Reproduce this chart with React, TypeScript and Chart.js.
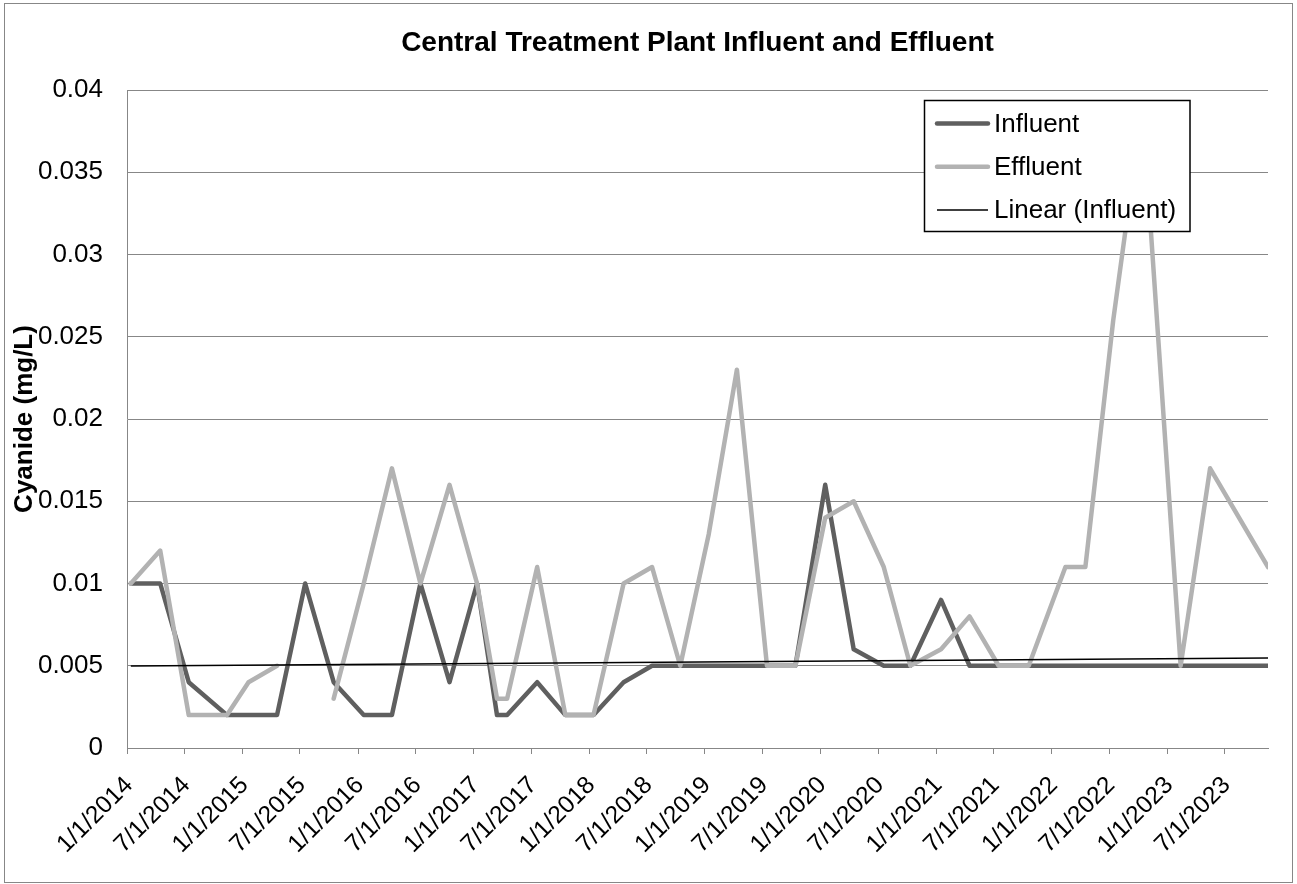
import React, { useEffect, useRef } from "react";
import { Chart, registerables } from "chart.js";

Chart.register(...registerables);

// ---- data ----
const sampleDates = [
  "2014-01-13", "2014-04-16", "2014-07-15", "2014-11-13", "2015-01-20",
  "2015-04-20", "2015-07-18", "2015-10-16", "2016-01-19", "2016-04-17",
  "2016-07-16", "2016-10-16", "2017-01-11", "2017-03-15", "2017-04-16",
  "2017-07-20", "2017-10-17", "2018-01-14", "2018-04-19", "2018-07-18",
  "2018-10-15", "2019-01-13", "2019-04-12", "2019-07-16", "2019-10-14",
  "2020-01-16", "2020-04-15", "2020-07-19", "2020-10-11", "2021-01-16",
  "2021-04-16", "2021-07-17", "2021-10-20", "2022-02-13", "2022-04-17",
  "2022-07-14", "2022-10-14", "2023-02-12", "2023-05-16", "2023-11-15",
];

const influent = [
  0.010, 0.010, 0.004, 0.002, 0.002,
  0.002, 0.010, 0.004, 0.002, 0.002,
  0.010, 0.004, 0.010, 0.002, 0.002,
  0.004, 0.002, 0.002, 0.004, 0.005,
  0.005, 0.005, 0.005, 0.005, 0.005,
  0.016, 0.006, 0.005, 0.005, 0.009,
  0.005, 0.005, 0.005, 0.005, 0.005,
  0.005, 0.005, 0.005, 0.005, 0.005,
];

const effluent: (number | null)[] = [
  0.010, 0.012, 0.002, 0.002, 0.004,
  0.005, null, 0.003, 0.010, 0.017,
  0.010, 0.016, 0.010, 0.003, 0.003,
  0.011, 0.002, 0.002, 0.010, 0.011,
  0.005, 0.013, 0.023, 0.005, 0.005,
  0.014, 0.015, 0.011, 0.005, 0.006,
  0.008, 0.005, 0.005, 0.011, 0.011,
  0.026, 0.039, 0.005, 0.017, 0.011,
];

const tickLabels = [
  "1/1/2014", "7/1/2014", "1/1/2015", "7/1/2015", "1/1/2016",
  "7/1/2016", "1/1/2017", "7/1/2017", "1/1/2018", "7/1/2018",
  "1/1/2019", "7/1/2019", "1/1/2020", "7/1/2020", "1/1/2021",
  "7/1/2021", "1/1/2022", "7/1/2022", "1/1/2023", "7/1/2023",
];

const seriesNames = ["Influent", "Effluent", "Linear (Influent)"];
const chartTitle = "Central Treatment Plant Influent and Effluent";
const yTitle = "Cyanide (mg/L)";

// ---- helpers ----
const DAY = 86400000;
const ORIGIN = Date.UTC(2014, 0, 1);
const isoToDay = (s: string) => {
  const [y, m, d] = s.split("-").map(Number);
  return (Date.UTC(y, m - 1, d) - ORIGIN) / DAY;
};
const mdyToDay = (s: string) => {
  const [m, d, y] = s.split("/").map(Number);
  return (Date.UTC(y, m - 1, d) - ORIGIN) / DAY;
};

const FONT = '"Liberation Sans", Arial, Helvetica, sans-serif';
const GRID = "#878787";
const INF_COLOR = "#5f5f5f";
const EFF_COLOR = "#b2b2b2";

export default function App() {
  const ref = useRef<HTMLCanvasElement | null>(null);

  useEffect(() => {
    if (!ref.current) return;
    const xs = sampleDates.map(isoToDay);
    const tickValues = tickLabels.map(mdyToDay);

    // Excel line-chart linear trendline (x = 1..n)
    const n = influent.length;
    let sx = 0, sy = 0, sxx = 0, sxy = 0;
    influent.forEach((v, i) => {
      const x = i + 1;
      sx += x; sy += v; sxx += x * x; sxy += x * v;
    });
    const b = (n * sxy - sx * sy) / (n * sxx - sx * sx);
    const a = (sy - b * sx) / n;
    const trend = [
      { x: xs[0], y: a + b * 1 },
      { x: xs[n - 1], y: a + b * n },
    ];

    const frame = {
      id: "frame",
      beforeDraw(chart: any) {
        const ctx = chart.ctx;
        ctx.save();
        ctx.fillStyle = "#ffffff";
        ctx.fillRect(0, 0, chart.width, chart.height);
        ctx.strokeStyle = GRID;
        ctx.lineWidth = 1;
        ctx.strokeRect(4.5, 3.5, chart.width - 9, chart.height - 5);
        ctx.restore();
      },
    };

    const titleAndLegend = {
      id: "titleAndLegend",
      afterDraw(chart: any) {
        const ctx = chart.ctx;
        const ca = chart.chartArea;
        ctx.save();
        ctx.fillStyle = "#000";
        ctx.font = `bold 28px ${FONT}`;
        ctx.textAlign = "center";
        ctx.textBaseline = "middle";
        ctx.fillText(chartTitle, (ca.left + ca.right) / 2, 43);

        // legend box
        const lx = 924.5, ly = 100.5, lw = 265.5, lh = 131;
        ctx.fillStyle = "#ffffff";
        ctx.fillRect(lx, ly, lw, lh);
        ctx.strokeStyle = "#000";
        ctx.lineWidth = 1.5;
        ctx.strokeRect(lx, ly, lw, lh);
        chart.data.datasets.forEach((ds: any, i: number) => {
          const y = 123.5 + i * 43.3;
          ctx.strokeStyle = ds.borderColor;
          ctx.lineWidth = ds.borderWidth;
          ctx.lineCap = ds.borderWidth > 2 ? "round" : "butt";
          ctx.beginPath();
          ctx.moveTo(937, y);
          ctx.lineTo(988, y);
          ctx.stroke();
          ctx.fillStyle = "#000";
          ctx.font = `26px ${FONT}`;
          ctx.textAlign = "left";
          ctx.textBaseline = "middle";
          ctx.fillText(ds.label, 994, y + 1);
        });
        ctx.restore();
      },
    };

    const chart = new Chart(ref.current, {
      type: "line",
      data: {
        datasets: [
          {
            label: seriesNames[0],
            data: xs.map((x, i) => ({ x, y: influent[i] })),
            borderColor: INF_COLOR,
            backgroundColor: INF_COLOR,
            borderWidth: 4.5,
            pointRadius: 0,
            borderCapStyle: "round",
            borderJoinStyle: "round",
            tension: 0,
            order: 2,
          },
          {
            label: seriesNames[1],
            data: xs.map((x, i) => ({ x, y: effluent[i] })),
            borderColor: EFF_COLOR,
            backgroundColor: EFF_COLOR,
            borderWidth: 4.5,
            pointRadius: 0,
            borderCapStyle: "round",
            borderJoinStyle: "round",
            spanGaps: false,
            tension: 0,
            order: 1,
          },
          {
            label: seriesNames[2],
            data: trend,
            borderColor: "#000000",
            backgroundColor: "#000000",
            borderWidth: 1.5,
            pointRadius: 0,
            tension: 0,
            order: 0,
          },
        ] as any,
      },
      options: {
        responsive: false,
        animation: false,
        devicePixelRatio: 1,
        layout: { padding: { top: 90, right: 29, bottom: 0, left: 0 } },
        plugins: {
          legend: { display: false },
          tooltip: { enabled: false },
          title: { display: false },
        },
        scales: {
          x: {
            type: "linear",
            bounds: "data",
            min: 0,
            max: xs[xs.length - 1],
            afterBuildTicks: (scale: any) => {
              scale.ticks = tickValues.map((v) => ({ value: v }));
            },
            afterFit: (scale: any) => {
              scale.height = 136;
            },
            grid: {
              drawOnChartArea: false,
              drawTicks: true,
              tickLength: 6,
              color: GRID,
              lineWidth: 1,
            },
            border: { display: true, color: GRID, width: 1 },
            ticks: {
              autoSkip: false,
              maxRotation: 45,
              minRotation: 45,
              padding: 17,
              labelOffset: 2,
              color: "#000",
              font: { family: FONT, size: 24.5 },
              callback: (_v: any, i: number) => tickLabels[i],
            },
          },
          y: {
            min: 0,
            max: 0.04,
            afterFit: (scale: any) => {
              scale.width = 127;
            },
            ticks: {
              stepSize: 0.005,
              padding: 24,
              color: "#000",
              font: { family: FONT, size: 26 },
              callback: (v: any) => String(Number(Number(v).toFixed(3))),
            },
            grid: { color: GRID, lineWidth: 1, drawTicks: false },
            border: { display: true, color: GRID, width: 1 },
            title: {
              display: true,
              text: yTitle,
              color: "#000",
              font: { family: FONT, size: 26, weight: "bold" },
              padding: { top: 9, bottom: 0 },
            },
          },
        },
      } as any,
      plugins: [frame, titleAndLegend],
    });

    return () => chart.destroy();
  }, []);

  return (
    <div
      style={{
        position: "fixed",
        left: 0,
        top: 0,
        width: 1297,
        height: 884,
        background: "#ffffff",
      }}
    >
      <canvas ref={ref} width={1297} height={884} style={{ display: "block" }} />
    </div>
  );
}
